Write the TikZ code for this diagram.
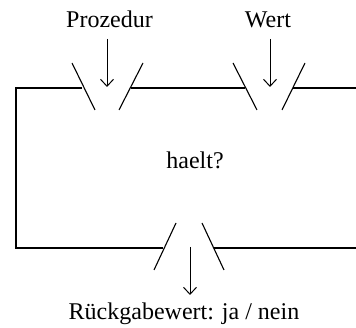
\documentclass[tikz,border=0pt]{standalone}
\usepackage{fontspec}
\setmainfont{Liberation Serif}
\usetikzlibrary{arrows.meta}
\begin{document}
\begin{tikzpicture}[x=1pt,y=1pt,line width=1.1pt,
  lbl/.style={font=\fontsize{24}{26}\selectfont, inner sep=0pt, anchor=base},
  inarrow/.style={-{Straight Barb[length=7pt,width=13pt]}, line width=1pt}]
\useasboundingbox (0,0) rectangle (356,328);
% labels
\node[lbl] (p) at (109.5,300) {Prozedur};
\node[lbl] (w) at (268,300) {Wert};
\node[lbl] (h) at (195,159) {haelt?};
\node[lbl] (r) at (184,8) {Rückgabewert: ja / nein};
% frame
\coordinate (tl) at (16,240);
\coordinate (bl) at (16,80);
\draw (82,240) -- (tl) -- (bl) -- (163,80);
\draw (131,240) -- (245,240);
\draw (293,240) -- (356,240);
\draw (214,80) -- (356,80);
% funnels
\draw (72,265) -- (95,218);
\draw (143,265) -- (119,218);
\draw (233,265) -- (257,218);
\draw (305,265) -- (282,218);
\draw (176,105) -- (154,58);
\draw (202,105) -- (224,58);
% arrows
\coordinate (pa) at (107,289); \coordinate (pb) at (107,241);
\coordinate (wa) at (270,289); \coordinate (wb) at (270,241);
\coordinate (ra) at (190,81);  \coordinate (rb) at (190,33);
\draw[inarrow] (pa) -- (pb);
\draw[inarrow] (wa) -- (wb);
\draw[inarrow] (ra) -- (rb);
\end{tikzpicture}
\end{document}
